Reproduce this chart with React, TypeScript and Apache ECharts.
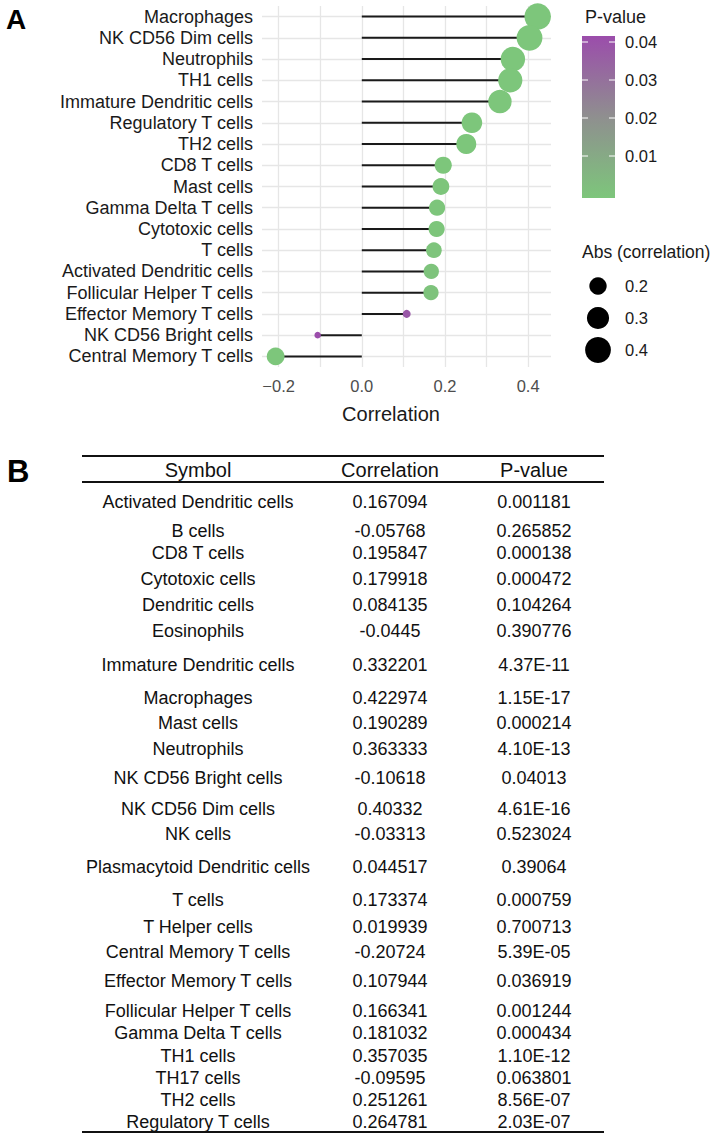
import React, { useEffect, useRef } from "react";
import * as echarts from "echarts";

// ---------- data (table of panel B) ----------
const tableSymbols = [
  "Activated Dendritic cells", "B cells", "CD8 T cells", "Cytotoxic cells", "Dendritic cells",
  "Eosinophils", "Immature Dendritic cells", "Macrophages", "Mast cells", "Neutrophils",
  "NK CD56 Bright cells", "NK CD56 Dim cells", "NK cells", "Plasmacytoid Dendritic cells",
  "T cells", "T Helper cells", "Central Memory T cells", "Effector Memory T cells",
  "Follicular Helper T cells", "Gamma Delta T cells", "TH1 cells", "TH17 cells", "TH2 cells",
  "Regulatory T cells",
];
const tableCorrelation = [
  "0.167094", "-0.05768", "0.195847", "0.179918", "0.084135", "-0.0445", "0.332201", "0.422974",
  "0.190289", "0.363333", "-0.10618", "0.40332", "-0.03313", "0.044517", "0.173374", "0.019939",
  "-0.20724", "0.107944", "0.166341", "0.181032", "0.357035", "-0.09595", "0.251261", "0.264781",
];
const tablePValue = [
  "0.001181", "0.265852", "0.000138", "0.000472", "0.104264", "0.390776", "4.37E-11", "1.15E-17",
  "0.000214", "4.10E-13", "0.04013", "4.61E-16", "0.523024", "0.39064", "0.000759", "0.700713",
  "5.39E-05", "0.036919", "0.001244", "0.000434", "1.10E-12", "0.063801", "8.56E-07", "2.03E-07",
];
const tableHeaders = ["Symbol", "Correlation", "P-value"];

// legend breaks / axis ticks
const xTickValues = [-0.2, 0, 0.2, 0.4];
const xGridValues = [-0.2, -0.1, 0, 0.1, 0.2, 0.3, 0.4];
const pValueBreaks = [0.01, 0.02, 0.03, 0.04];
const sizeBreaks = [0.2, 0.3, 0.4];

// plotted subset: significant rows, sorted by correlation (descending)
const plotRows = tableSymbols
  .map((s, i) => ({ s, r: Number(tableCorrelation[i]), p: Number(tablePValue[i]) }))
  .filter((d) => d.p < 0.05)
  .sort((a, b) => b.r - a.r);
const plotCategories = plotRows.map((d) => d.s);
const plotCorrelation = plotRows.map((d) => d.r);
const plotPValue = plotRows.map((d) => d.p);

// ---------- layout / style ----------
const FONT = '"Liberation Sans", Arial, Helvetica, sans-serif';
const GREEN = "#7dc67b";
const MID = "#8f8f8f";
const PURPLE = "#9b4dab";
const TABLE_ROW_Y = [
  501.7, 530.7, 553.3, 579.3, 605, 631, 665, 697.7, 723.3, 749.3, 778.3, 809, 834.3, 867.3, 900,
  926.7, 952.3, 981, 1010.7, 1033.3, 1056, 1078.3, 1100, 1122.3,
];
const TABLE_COL_X = [198, 390, 534];

const absVals = plotCorrelation.map((v) => Math.abs(v));
const minAbs = Math.min(...absVals);
const maxAbs = Math.max(...absVals);
const sizeOf = (v: number) =>
  6.5 + 20 * Math.sqrt(Math.max(0, (Math.abs(v) - minAbs) / (maxAbs - minAbs)));

// colour bar scale (legend)
const CB_TOP = 36;
const CB_BOTTOM = 198;
const cbY = (p: number) => 194 - (p / 0.01) * 38;

function txt(
  text: string, x: number, y: number, fontSize: number,
  opts: { align?: string; fill?: string; weight?: string } = {}
) {
  return {
    type: "text",
    x, y,
    silent: true,
    style: {
      text,
      fontSize,
      fontFamily: FONT,
      fontWeight: opts.weight || "normal",
      fill: opts.fill || "#111111",
      textAlign: opts.align || "center",
      textVerticalAlign: "middle",
    },
  };
}

export default function App() {
  const ref = useRef<HTMLDivElement>(null);

  useEffect(() => {
    document.body.style.margin = "0";
    const chart = echarts.init(ref.current as HTMLDivElement, null, { renderer: "svg" });

    const graphics: any[] = [];
    // panel letters
    graphics.push(txt("A", 6, 19, 28, { align: "left", weight: "bold", fill: "#000" }));
    graphics.push(txt("B", 7, 471, 31, { align: "left", weight: "bold", fill: "#000" }));
    // axis title
    graphics.push(txt("Correlation", 391, 414, 20, { fill: "#1a1a1a" }));

    // colour legend
    graphics.push(txt("P-value", 585, 17, 18, { align: "left", fill: "#1a1a1a" }));
    graphics.push({
      type: "rect",
      silent: true,
      shape: { x: 582, y: CB_TOP, width: 33, height: CB_BOTTOM - CB_TOP },
      style: {
        fill: new echarts.graphic.LinearGradient(0, 0, 0, 1, [
          { offset: 0, color: PURPLE },
          { offset: 0.5, color: MID },
          { offset: 1, color: GREEN },
        ]),
      },
    });
    pValueBreaks.forEach((b) => {
      const y = cbY(b);
      graphics.push({ type: "line", silent: true, shape: { x1: 582, y1: y, x2: 588, y2: y }, style: { stroke: "#ffffff", lineWidth: 1 } });
      graphics.push({ type: "line", silent: true, shape: { x1: 609, y1: y, x2: 615, y2: y }, style: { stroke: "#ffffff", lineWidth: 1 } });
      graphics.push(txt(b.toFixed(2), 625, y, 16.5, { align: "left", fill: "#1a1a1a" }));
    });

    // size legend
    graphics.push(txt("Abs (correlation)", 582, 252, 17.5, { align: "left", fill: "#1a1a1a" }));
    sizeBreaks.forEach((b, i) => {
      const y = 286 + i * 32;
      graphics.push({ type: "circle", silent: true, shape: { cx: 598, cy: y, r: sizeOf(b) / 2 }, style: { fill: "#000" } });
      graphics.push(txt(b.toFixed(1), 625, y, 16.5, { align: "left", fill: "#1a1a1a" }));
    });

    // table
    const lineStyle = { stroke: "#111111", lineWidth: 2 };
    [456, 482, 1132].forEach((y) =>
      graphics.push({ type: "line", silent: true, shape: { x1: 82, y1: y, x2: 604, y2: y }, style: lineStyle })
    );
    tableHeaders.forEach((h, c) => graphics.push(txt(h, TABLE_COL_X[c], 470, 20)));
    tableSymbols.forEach((s, i) => {
      const y = TABLE_ROW_Y[i];
      graphics.push(txt(s, TABLE_COL_X[0], y, 18));
      graphics.push(txt(tableCorrelation[i], TABLE_COL_X[1], y, 18));
      graphics.push(txt(tablePValue[i], TABLE_COL_X[2], y, 18));
    });

    const gridLine = { color: "#e6e6e6", width: 1.3, type: "solid" };

    const option: any = {
      animation: false,
      backgroundColor: "#ffffff",
      grid: { left: 262, right: 167, top: 6, bottom: 773, containLabel: false },
      xAxis: {
        type: "value",
        min: -0.24,
        max: 0.455,
        axisLine: { show: false },
        axisTick: { show: false },
        splitLine: { show: false },
        axisLabel: {
          customValues: xTickValues,
          formatter: (v: number) => v.toFixed(1).replace("-", "\u2212"),
          color: "#4d4d4d",
          fontSize: 16.5,
          fontFamily: FONT,
          margin: 10,
        },
      },
      yAxis: {
        type: "category",
        data: plotCategories,
        inverse: true,
        axisLine: { show: false },
        axisTick: { show: false },
        splitLine: { show: false },
        axisLabel: { interval: 0, color: "#1a1a1a", fontSize: 18, fontFamily: FONT, margin: 9 },
      },
      visualMap: {
        type: "continuous",
        show: false,
        dimension: 2,
        seriesIndex: 1,
        min: 0,
        max: Math.max(...plotPValue),
        inRange: { color: [GREEN, MID, PURPLE] },
      },
      series: [
        {
          type: "bar",
          data: plotCorrelation,
          barWidth: 2,
          itemStyle: { color: "#1a1a1a" },
          z: 3,
          silent: true,
          markLine: {
            silent: true,
            z: 1,
            symbol: "none",
            label: { show: false },
            lineStyle: gridLine,
            emphasis: { disabled: true },
            data: [
              ...xGridValues.map((v) => ({ xAxis: v })),
              ...plotCategories.map((_, i) => ({ yAxis: i })),
            ],
          },
        },
        {
          type: "scatter",
          data: plotCategories.map((_, i) => [plotCorrelation[i], i, plotPValue[i]]),
          encode: { x: 0, y: 1 },
          symbolSize: (val: number[]) => sizeOf(val[0]),
          itemStyle: { opacity: 1 },
          z: 4,
          silent: true,
        },
      ],
      graphic: graphics,
    };

    chart.setOption(option);
    return () => chart.dispose();
  }, []);

  return <div ref={ref} style={{ width: 718, height: 1140 }} />;
}
